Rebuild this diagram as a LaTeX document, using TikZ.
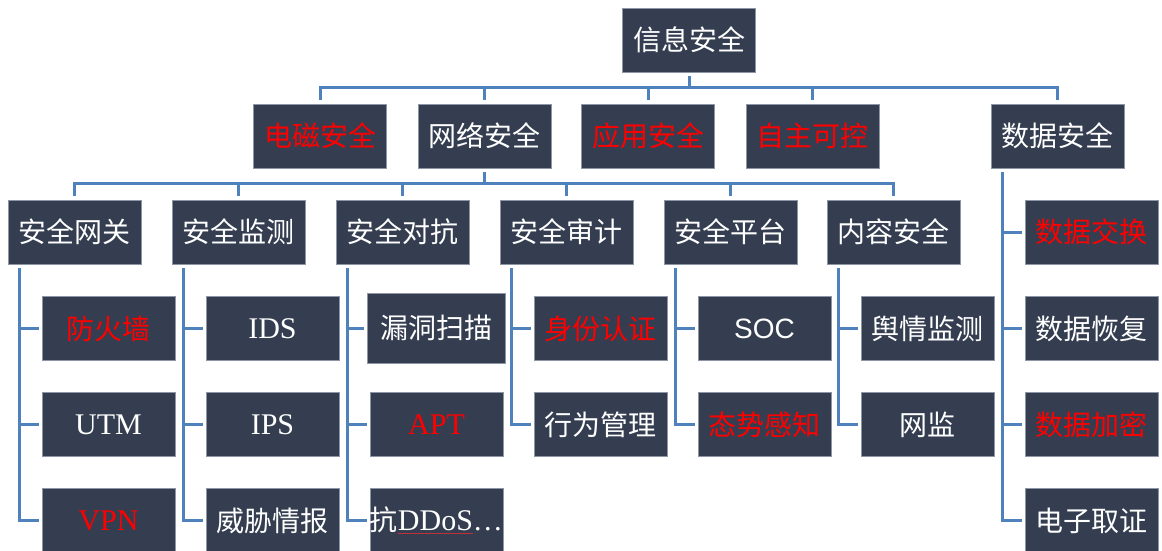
\documentclass[tikz,border=0pt]{standalone}
\usepackage{fontspec}
\setmainfont{Liberation Serif}
\newfontfamily\cjk{Noto Sans CJK SC}
\newfontfamily\arialf{Liberation Sans}
\usetikzlibrary{calc}
\definecolor{boxfill}{HTML}{343E50}
\definecolor{conncol}{HTML}{4F81BD}
\definecolor{boxedge}{HTML}{8C96A5}
\definecolor{redtext}{HTML}{FF0000}
\definecolor{ulred}{HTML}{C0303A}
\newcommand\zh[1]{{\cjk\fontsize{28}{30}\selectfont #1}}
\newcommand\redul[1]{\setbox0\hbox{#1}{\color{ulred}\rlap{\rule[-3pt]{\wd0}{1.2pt}}}\box0}
\tikzset{
 box/.style={rectangle, fill=boxfill, draw=boxedge, line width=0.6pt, minimum width=133pt, minimum height=64pt, inner sep=0pt, text=white, font=\fontsize{30}{32}\selectfont},
 hot/.style={box, text=redtext},
 conn/.style={draw=conncol, line width=3pt},
}
\begin{document}
\begin{tikzpicture}[x=1pt,y=-1pt]
\useasboundingbox (0,0) rectangle (1162,551);
% root
\node[box] (root) at (689,40) {\zh{信息安全}};
% level 1
\node[hot] (dc) at (320,136) {\zh{电磁安全}};
\node[box] (wl) at (484.5,136) {\zh{网络安全}};
\node[hot] (yy) at (648,136) {\zh{应用安全}};
\node[hot] (zz) at (812.5,136) {\zh{自主可控}};
\node[box] (sj) at (1057.5,136) {\zh{数据安全}};
% level 2
\node[box] (gw) at (74.5,232) {\zh{安全网关}};
\node[box] (jc) at (238.5,232) {\zh{安全监测}};
\node[box] (dk) at (402.5,232) {\zh{安全对抗}};
\node[box] (sjj) at (566.5,232) {\zh{安全审计}};
\node[box] (pt) at (730.5,232) {\zh{安全平台}};
\node[box] (nr) at (893.5,232) {\zh{内容安全}};
% level 3
\node[hot] (fw) at (108.5,328.5) {\zh{防火墙}};
\node[box] (utm) at (108.5,424.5) {UTM};
\node[hot] (vpn) at (108.5,520.5) {VPN};
\node[box] (ids) at (272.5,328.5) {IDS};
\node[box] (ips) at (272.5,424.5) {IPS};
\node[box] (wx) at (272.5,520.5) {\zh{威胁情报}};
\node[box, minimum width=138pt, minimum height=70pt] (ld) at (436,328) {\zh{漏洞扫描}};
\node[hot] (apt) at (436.5,424.5) {APT};
\node[box] (ddos) at (436.5,520.5) {\zh{抗}\redul{DDoS}…};
\node[hot] (sf) at (600.5,328.5) {\zh{身份认证}};
\node[box] (xw) at (600.5,424.5) {\zh{行为管理}};
\node[box] (soc) at (764.5,328.5) {\arialf\fontsize{28}{30}\selectfont SOC};
\node[hot] (ts) at (764.5,424.5) {\zh{态势感知}};
\node[box] (yq) at (927.5,328.5) {\zh{舆情监测}};
\node[box] (wj) at (927.5,424.5) {\zh{网监}};
\node[hot] (jh) at (1091.5,232) {\zh{数据交换}};
\node[box] (hf) at (1091.5,328.5) {\zh{数据恢复}};
\node[hot] (jm) at (1091.5,424.5) {\zh{数据加密}};
\node[box] (qz) at (1091.5,520.5) {\zh{电子取证}};
% connectors root -> level 1
\foreach \c in {dc,wl,yy,zz,sj}
  \draw[conn] ($(root.south)+(0,4)$) |- ($(\c.north)+(0,-16)$) -- ($(\c.north)+(0,-4)$);
% connectors wl -> level 2
\foreach \c in {gw,jc,dk,sjj,pt,nr}
  \draw[conn] ($(wl.south)+(0,4)$) |- ($(\c.north)+(0,-16)$) -- ($(\c.north)+(0,-4)$);
% side connectors
\foreach \p/\c in {gw/fw,gw/utm,gw/vpn,jc/ids,jc/ips,jc/wx,dk/ld,dk/apt,dk/ddos,sjj/sf,sjj/xw,pt/soc,pt/ts,nr/yq,nr/wj,sj/jh,sj/hf,sj/jm,sj/qz}
  \draw[conn] ($(\p.south west)+(12,4)$) |- ($(\c.west)+(-3,0)$);
\end{tikzpicture}
\end{document}
